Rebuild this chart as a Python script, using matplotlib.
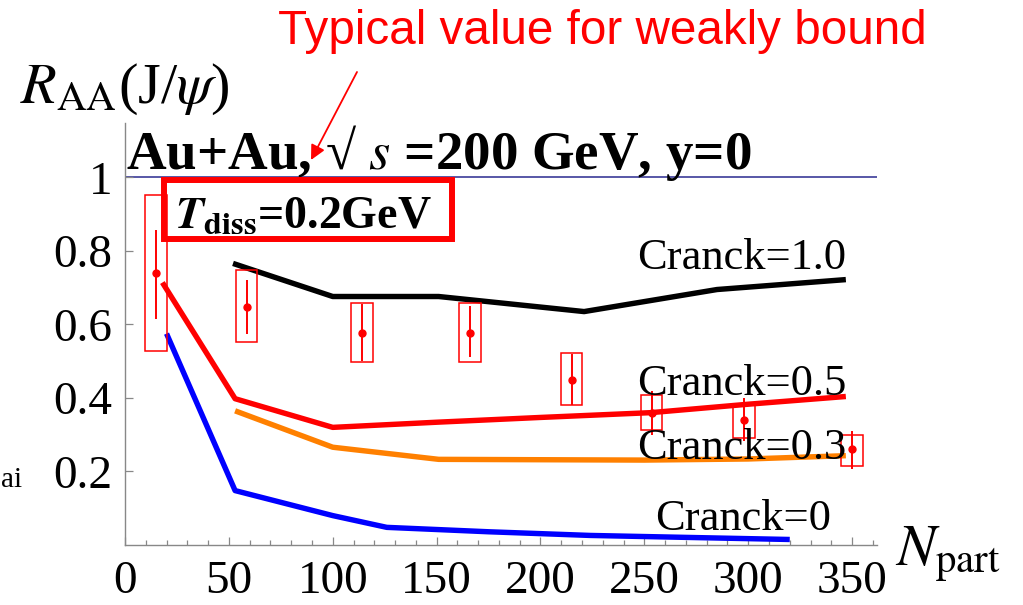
import matplotlib
matplotlib.use("Agg")
import matplotlib.pyplot as plt
from matplotlib.patches import Rectangle
from matplotlib.ticker import MultipleLocator, FixedLocator, FixedFormatter

plt.rcParams["font.family"] = ["Liberation Serif", "DejaVu Serif"]
plt.rcParams["mathtext.fontset"] = "stix"

W, H = 1023, 605

# -----------------------------
# model curves (Npart, R_AA)
# -----------------------------
c10_x = [52, 100, 151, 221, 285, 347]
c10_y = [0.766, 0.676, 0.676, 0.635, 0.695, 0.722]

c05_x = [18, 53, 100, 150, 200, 253, 300, 347]
c05_y = [0.714, 0.398, 0.32, 0.334, 0.347, 0.36, 0.383, 0.404]

c03_x = [53, 100, 151, 200, 250, 300, 347]
c03_y = [0.365, 0.266, 0.233, 0.232, 0.231, 0.234, 0.243]

c00_x = [20, 53, 100, 126, 175, 224, 320]
c00_y = [0.575, 0.148, 0.08, 0.048, 0.036, 0.026, 0.015]

# -----------------------------
# data points
# -----------------------------
exp_x = [15, 58.5, 114, 166, 215, 253.5, 298, 350]
exp_y = [0.74, 0.647, 0.578, 0.578, 0.45, 0.36, 0.339, 0.262]
stat_lo = [0.616, 0.575, 0.50, 0.512, 0.38, 0.298, 0.284, 0.208]
stat_hi = [0.858, 0.72, 0.655, 0.65, 0.52, 0.42, 0.401, 0.31]
sys_lo = [0.529, 0.551, 0.499, 0.499, 0.38, 0.312, 0.29, 0.216]
sys_hi = [0.951, 0.747, 0.657, 0.657, 0.521, 0.407, 0.38, 0.298]
BOX_HALF = 5.2

x_ticks = [0, 50, 100, 150, 200, 250, 300, 350]
y_ticks = [0.2, 0.4, 0.6, 0.8, 1.0]
y_tick_labels = ["0.2", "0.4", "0.6", "0.8", "1"]

fig = plt.figure(figsize=(W / 100, H / 100), dpi=100)
ax = fig.add_axes([125 / W, (H - 545) / H, (877 - 125) / W, (545 - 123) / H])
ax.set_xlim(0, 362)
ax.set_ylim(0, 1.148)

# reference line at 1
ax.axhline(1.0, color="#4a4aa0", linewidth=1.3, zorder=1)

# curves
LW = 3.9
ax.plot(c10_x, c10_y, color="black", linewidth=LW, solid_capstyle="butt", zorder=3)
ax.plot(c05_x, c05_y, color="#ff0000", linewidth=LW, solid_capstyle="butt", zorder=3)
ax.plot(c03_x, c03_y, color="#ff8000", linewidth=LW, solid_capstyle="butt", zorder=3)
ax.plot(c00_x, c00_y, color="#0000ff", linewidth=LW, solid_capstyle="butt", zorder=3)

# systematic boxes
for x, lo, hi in zip(exp_x, sys_lo, sys_hi):
    ax.add_patch(Rectangle((x - BOX_HALF, lo), 2 * BOX_HALF, hi - lo,
                           fill=False, edgecolor="#ff0000", linewidth=1.1, zorder=4))

yerr = [[y - lo for y, lo in zip(exp_y, stat_lo)],
        [hi - y for y, hi in zip(exp_y, stat_hi)]]
ax.errorbar(exp_x, exp_y, yerr=yerr, fmt="o", color="#ff0000", markersize=5,
            elinewidth=1.4, capsize=0, zorder=5)

# curve labels
lab_kw = dict(fontsize=32, ha="left", va="baseline", zorder=6)
ax.text(246.5, 0.752, "Cranck=1.0", **lab_kw)
ax.text(246.5, 0.407, "Cranck=0.5", **lab_kw)
ax.text(246.5, 0.235, "Cranck=0.3", **lab_kw)
ax.text(255, 0.040, "Cranck=0", **lab_kw)

# axes styling
for side in ("top", "right"):
    ax.spines[side].set_visible(False)
for side in ("left", "bottom"):
    ax.spines[side].set_color("#888888")
    ax.spines[side].set_linewidth(1.0)

ax.xaxis.set_major_locator(FixedLocator(x_ticks))
ax.xaxis.set_minor_locator(MultipleLocator(10))
ax.yaxis.set_major_locator(FixedLocator(y_ticks))
ax.yaxis.set_major_formatter(FixedFormatter(y_tick_labels))
ax.tick_params(axis="both", which="major", direction="in", length=6, width=0.9,
               color="#888888", labelsize=34)
ax.tick_params(axis="both", which="minor", direction="in", length=3.5, width=0.9,
               color="#888888")
ax.tick_params(axis="x", pad=11)
ax.tick_params(axis="y", pad=9)

# title inside plot
ax.text(0.5, 1.023, "Au+Au, \u221a $s$ =200 GeV, y=0", fontsize=39.5, fontweight="bold",
        ha="left", va="baseline", zorder=6)


def px(x, y):
    return x / W, 1 - y / H


# T_diss box
fig.text(*px(175, 228), r"$\mathbfit{T}_{\mathbf{diss}}$=0.2GeV", fontsize=33,
         fontweight="bold", ha="left", va="baseline")
fig.patches.append(Rectangle(px(164, 239), (452 - 164) / W, (239 - 180) / H,
                             transform=fig.transFigure, fill=False,
                             edgecolor="#ff0000", linewidth=4.3, zorder=7))

# axis titles
fig.text(*px(20, 103), r"$R_{\rm AA}$(J/$\psi$)", fontsize=42, ha="left", va="baseline")
fig.text(*px(895, 565), r"$N_{\rm part}$", fontsize=42, ha="left", va="baseline")
fig.text(*px(1, 487), "ai", fontsize=21, ha="left", va="baseline")

# red annotation
fig.text(*px(278, 44), "Typical value for weakly bound", fontsize=34.3,
         family="Liberation Sans", color="#ff0000", ha="left", va="baseline")
ax.annotate("", xy=px(311, 160), xycoords="figure fraction",
            xytext=px(357, 72), textcoords="figure fraction",
            arrowprops=dict(arrowstyle="-|>", color="#ff0000", linewidth=1.3,
                            mutation_scale=22, shrinkA=0, shrinkB=0))

fig.savefig("out.png", dpi=100)
